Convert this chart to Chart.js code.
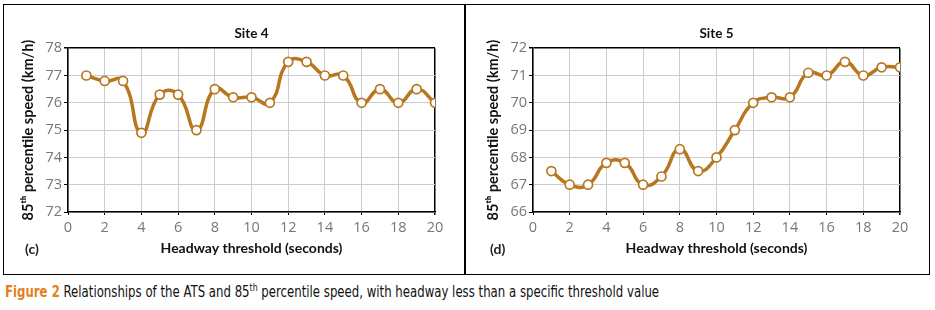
<!DOCTYPE html>
<html>
<head>
<meta charset="utf-8">
<script src="https://cdn.jsdelivr.net/npm/chart.js@4/dist/chart.umd.min.js"></script>
<style>
  html, body { margin: 0; padding: 0; background: #fff; }
  #page { position: relative; width: 935px; height: 310px; overflow: hidden; }
  .frame { position: absolute; left: 3px; top: 4px; width: 925px; height: 269px; border: 1.5px solid #000; }
  .divider { position: absolute; left: 464px; top: 4px; width: 1.5px; height: 271px; background: #000; }
  .panel { position: absolute; top: 0; width: 465px; height: 274px; }
  .tag { position: absolute; top: 240px; font: bold 14px Lato, sans-serif; color: #222; }
  #caption { position: absolute; left: 5px; top: 283px; font: 15px 'Liberation Sans Narrow', 'DejaVu Sans Condensed', sans-serif; color: #111; white-space: nowrap; transform: scaleX(0.87); transform-origin: 0 0; }
  #caption b { color: #e3801f; }
  #caption sup { font-size: 10px; line-height: 0; }
</style>
</head>
<body>
<div id="page">
  <div class="frame"></div>
  <div class="divider"></div>
  <div class="panel" style="left:0"><canvas id="c4"></canvas></div>
  <div class="panel" style="left:465px"><canvas id="c5"></canvas></div>
  <div class="tag" style="left:25px">(c)</div>
  <div class="tag" style="left:490px">(d)</div>
  <div id="caption"><b>Figure 2</b> Relationships of the ATS and 85<sup>th</sup> percentile speed, with headway less than a specific threshold value</div>
</div>
<script>
// headway threshold (seconds)
const headway = [1, 2, 3, 4, 5, 6, 7, 8, 9, 10, 11, 12, 13, 14, 15, 16, 17, 18, 19, 20]
// 85th percentile speed (km/h)
const site4Speed = [77, 76.8, 76.8, 74.9, 76.3, 76.3, 75, 76.5, 76.2, 76.2, 76, 77.5, 77.5, 77, 77, 76, 76.5, 76, 76.5, 76]
const site5Speed = [67.5, 67, 67, 67.8, 67.8, 67, 67.3, 68.3, 67.5, 68, 69, 70, 70.2, 70.2, 71.1, 71, 71.5, 71, 71.3, 71.3]
const xRange = [0, 20]
const site4Range = [72, 78]
const site5Range = [66, 72]

const LINE = '#b8771f'
const GRID = '#cdcdcd'

function makeChart(id, title, values, range) {
  // last grid line closes the plot frame in black
  const edge = max => c => (c.tick && c.tick.value === max ? '#000' : GRID)
  const edgeW = max => c => (c.tick && c.tick.value === max ? 1.5 : 1)

  new Chart(document.getElementById(id), {
    type: 'line',
    data: {
      datasets: [{
        data: headway.map((h, i) => ({ x: h, y: values[i] })),
        borderColor: LINE,
        borderWidth: 3.5,
        tension: 0.5,
        pointRadius: 4.5,
        pointBorderWidth: 1.7,
        pointBackgroundColor: '#fff',
        pointBorderColor: LINE,
      }],
    },
    options: {
      responsive: false,
      animation: false,
      devicePixelRatio: 1,
      layout: { padding: { left: 0, right: 30, top: 0, bottom: 0 } },
      plugins: {
        legend: { display: false },
        tooltip: { enabled: false },
        title: {
          display: true, text: title, fullSize: false,
          color: '#111', font: { family: 'Lato', size: 13.5, weight: 'bold' },
          padding: { top: 26, bottom: 6 },
        },
      },
      scales: {
        x: {
          type: 'linear', min: xRange[0], max: xRange[1],
          afterFit: s => { s.height = 62 },
          ticks: { stepSize: 2, color: '#777', padding: 4, font: { family: 'Open Sans', size: 14.5 } },
          grid: { color: edge(xRange[1]), lineWidth: edgeW(xRange[1]), tickLength: 3, tickColor: '#000' },
          border: { color: '#000', width: 1.5 },
          title: {
            display: true, text: 'Headway threshold (seconds)', color: '#111',
            font: { family: 'Lato', size: 14, weight: 'bold' },
            padding: { top: 0, bottom: 17 },
          },
        },
        y: {
          min: range[0], max: range[1],
          afterFit: s => { s.width = 68 },
          ticks: { stepSize: 1, color: '#777', padding: 2, font: { family: 'Open Sans', size: 14.5 } },
          grid: { color: edge(range[1]), lineWidth: edgeW(range[1]), tickLength: 4, tickColor: '#000' },
          border: { color: '#000', width: 1.5 },
          title: {
            display: true, text: '85ᵗʰ percentile speed (km/h)', color: '#111',
            font: { family: 'Lato', size: 14.5, weight: 'bold' },
            padding: { top: 20, bottom: 0 },
          },
        },
      },
    },
  })
}

for (const id of ['c4', 'c5']) {
  document.getElementById(id).width = 465
  document.getElementById(id).height = 274
}
makeChart('c4', 'Site 4', site4Speed, site4Range)
makeChart('c5', 'Site 5', site5Speed, site5Range)
</script>
</body>
</html>
